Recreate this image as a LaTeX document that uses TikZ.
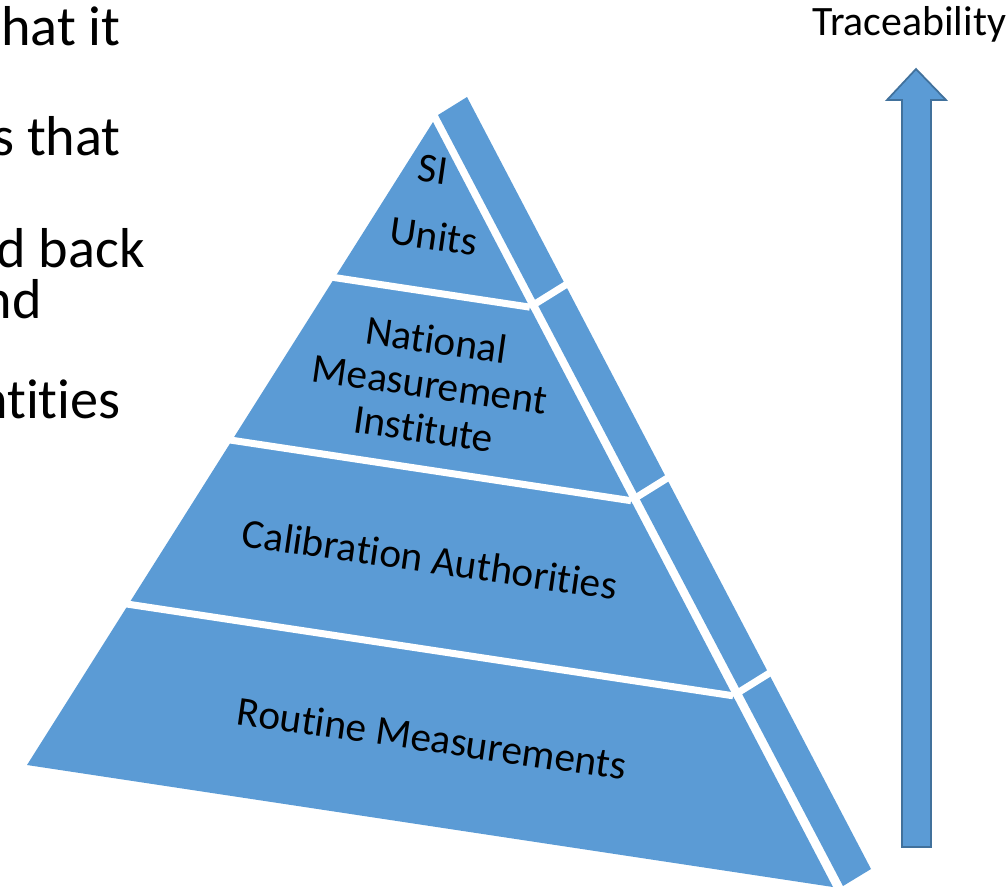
\documentclass[tikz,border=0pt]{standalone}
\usepackage{fontspec}
\setmainfont{Carlito}[RawFeature={-liga;-clig;-calt;-dlig}]
\usetikzlibrary{calc}
\definecolor{tier}{HTML}{5B9BD5}
\definecolor{tierline}{HTML}{41719C}

\begin{document}
\begin{tikzpicture}[x=0.02cm,y=-0.02cm,
      face/.style={fill=tier},
      tiergap/.style={draw=white,line width=4pt},
      tiertext/.style={font=\fontsize{23.5}{25.5}\selectfont,align=center,rotate=-8.2,inner sep=0pt},
      slidetext/.style={font=\fontsize{32}{38}\selectfont,anchor=base east,inner sep=0pt}
    ]
      \useasboundingbox (0,0) rectangle (1006,887);
      % slide text, cut at the left
      \node[slidetext] (s1) at (121,45) {hat it};
      \node[slidetext] (s2) at (121,155) {s that};
      \node[slidetext] (s3) at (145,267) {d back};
      \node[slidetext] (s4) at (42,318) {nd};
      \node[slidetext] (s5) at (121,418) {ntities};
      % pyramid
      \coordinate (apex) at (433,122);
      \coordinate (bl) at (27,765);
      \coordinate (br) at (833,887);
      \fill[face] (apex) -- (bl) -- (br) -- cycle;
      \fill[face] (438,115) -- (467,97) -- (871,869) -- (843,886) -- cycle;
      \foreach \t/\n in {0.242/1,0.495/2,0.75/3} {
        \coordinate (l\n) at ($(apex)!\t!(bl)$);
        \coordinate (r\n) at ($(apex)!\t!(br)$);
        \draw[tiergap] ($(r\n)!1.03!(l\n)$) -- (r\n);
        \draw[tiergap] (r\n) -- ++(45,-28);
      }
      \node[tiertext,anchor=base] (si) at (431,183) {SI};
      \node[tiertext,anchor=base] (units) at (432,250) {Units};
      \node[tiertext] (nmi) at (430,384) {National\\Measurement\\Institute};
      \node[tiertext,anchor=base] (cal) at (428,573) {Calibration Authorities};
      \node[tiertext,anchor=base] (rout) at (430,752) {Routine Measurements};
      % traceability arrow
      \filldraw[fill=tier,draw=tierline,line width=1pt]
        (902,847) -- (931,847) -- (931,100) -- (946,100) -- (916,69) -- (887,100) -- (902,100) -- cycle;
      \node[font=\fontsize{23.8}{28}\selectfont,anchor=base west,inner sep=0pt] (trace) at (812,35) {Traceability};
    \end{tikzpicture}
\end{document}
